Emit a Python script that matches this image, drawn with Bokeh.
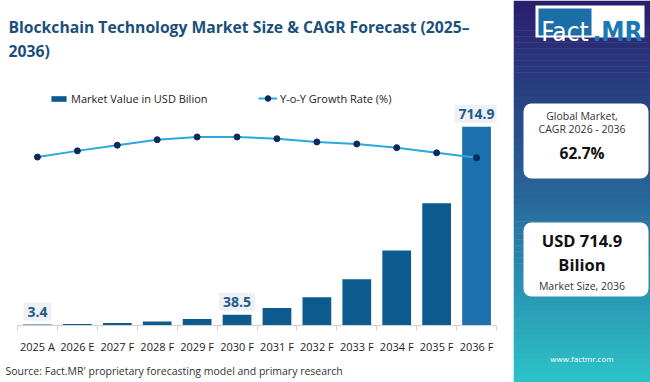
import numpy as np
from bokeh.plotting import figure
from bokeh.models import (Range1d, LinearAxis, FixedTicker, Label, Legend, LegendItem,
                          BoxAnnotation, ColumnDataSource, Title)
from bokeh.layouts import row
from bokeh.embed import file_html
from bokeh.resources import INLINE

# ---------------- data ----------------
categories = ["2025 A", "2026 E", "2027 F", "2028 F", "2029 F", "2030 F",
              "2031 F", "2032 F", "2033 F", "2034 F", "2035 F", "2036 F"]
market_value = [3.4, 5.5, 9.0, 14.6, 23.8, 38.5, 62.7, 102.0, 166.0, 270.0, 440.0, 714.9]
growth_rate = [58.0, 60.5, 62.8, 65.0, 66.1, 66.1, 65.4, 64.1, 63.3, 61.8, 59.7, 57.7]
labelled = ["2025 A", "2030 F", "2036 F"]
title_lines = ["Blockchain Technology Market Size & CAGR Forecast (2025\u2013", "2036)"]
source_text = "Source: Fact.MR' proprietary forecasting model and primary research"
cagr_text = "62.7%"
size_lines = ["USD 714.9", "Bilion"]

FONT = "Open Sans"
W, H = 650, 382
MAIN_W = 513
PANEL_W = W - MAIN_W

idx = list(range(len(categories)))
bar_colors = ["#0c5a8e"] * (len(categories) - 1) + ["#1b70ad"]
src = ColumnDataSource(dict(x=idx, top=market_value, color=bar_colors, g=growth_rate))

# ---------------- main chart ----------------
p = figure(width=MAIN_W, height=H, x_range=Range1d(-0.5, len(categories) - 0.5),
           y_range=Range1d(0, 950), output_backend="svg", toolbar_location=None,
           x_axis_location=None, y_axis_location=None,
           min_border_left=17, min_border_right=17, min_border_top=61, min_border_bottom=55)
p.frame_align = False
p.outline_line_color = None
p.grid.visible = False
p.background_fill_color = "white"
p.border_fill_color = "white"
p.extra_y_ranges = {"g": Range1d(-9.88, 96.52)}

xaxis = LinearAxis(ticker=FixedTicker(ticks=idx, minor_ticks=[i - 0.5 for i in range(len(categories) + 1)]),
                   major_label_overrides={i: c for i, c in enumerate(categories)})
xaxis.axis_line_color = "#d2d2d2"
xaxis.major_tick_line_color = None
xaxis.major_tick_out = 0
xaxis.major_tick_in = 0
xaxis.minor_tick_out = 5
xaxis.minor_tick_in = 0
xaxis.minor_tick_line_color = "#d2d2d2"
xaxis.major_label_standoff = 8
xaxis.major_label_text_font = FONT
xaxis.major_label_text_font_size = "11px"
xaxis.major_label_text_color = "#222222"
p.add_layout(xaxis, "below")

p.add_layout(Title(text=source_text, align="left", offset=-12, standoff=10, text_font=FONT,
                   text_font_size="10.5px", text_font_style="normal", text_color="#333333"), "below")

p.add_layout(Title(text=title_lines[1], align="left", offset=-9, standoff=0, text_font=FONT,
                   text_font_size="15.7px", text_font_style="bold", text_color="#1b4f7c"), "above")
p.add_layout(Title(text=title_lines[0], align="left", offset=-9, standoff=0, text_font=FONT,
                   text_font_size="15.7px", text_font_style="bold", text_color="#1b4f7c"), "above")

bars = p.vbar(x="x", top="top", bottom=0, width=0.72, fill_color="color", line_color=None, source=src)
gline = p.line(x="x", y="g", y_range_name="g", line_color="#2aa8df", line_width=2, source=src)
gdots = p.scatter(x="x", y="g", y_range_name="g", size=6, fill_color="#0b2a5c",
                  line_color="#0b2a5c", source=src)

leg1 = Legend(items=[LegendItem(label="Market Value in USD Bilion", renderers=[bars])],
              location=(32, 219.5), orientation="horizontal", glyph_width=19, glyph_height=7,
              label_standoff=3, padding=0, margin=0, border_line_color=None,
              background_fill_alpha=0, label_text_font=FONT, label_text_font_size="11px",
              label_text_color="#222222", label_height=14)
leg2 = Legend(items=[LegendItem(label="Y-o-Y Growth Rate (%)", renderers=[gline, gdots])],
              location=(241, 219.5), orientation="horizontal", glyph_width=19, glyph_height=14,
              label_standoff=3, padding=0, margin=0, border_line_color=None,
              background_fill_alpha=0, label_text_font=FONT, label_text_font_size="11px",
              label_text_color="#222222", label_height=14)
p.add_layout(leg1)
p.add_layout(leg2)

for cat in labelled:
    i = categories.index(cat)
    p.add_layout(Label(x=i, y=market_value[i], text=f"{market_value[i]:g}", text_align="center",
                       text_baseline="middle", y_offset=13, text_font=FONT, text_font_size="14px",
                       text_font_style="bold", text_color="#1d5c8c",
                       background_fill_color="#eef0f3", padding=4))

# ---------------- side panel ----------------
p2 = figure(width=PANEL_W, height=H, x_range=Range1d(0, PANEL_W), y_range=Range1d(H, 0),
            output_backend="svg", toolbar_location=None, x_axis_location=None,
            y_axis_location=None, min_border=0)
p2.frame_align = False
p2.outline_line_color = None
p2.grid.visible = False
p2.border_fill_color = "white"

stops_t = [0.0, 0.5, 1.0]
stops_c = np.array([[42, 30, 108], [40, 100, 152], [44, 195, 201]], dtype=float)
n = 64
edges = np.linspace(0, H, n + 1)
mids = (edges[:-1] + edges[1:]) / 2 / H
cols = []
for m in mids:
    rgb = [np.interp(m, stops_t, stops_c[:, c]) for c in range(3)]
    cols.append("#%02x%02x%02x" % tuple(int(round(v)) for v in rgb))
p2.quad(left=0, right=PANEL_W, top=edges[:-1], bottom=edges[1:] + 0.5, fill_color=cols, line_color=None)

# logo
p2.add_layout(BoxAnnotation(left=22, right=131, top=5, bottom=37, fill_color="white", fill_alpha=1,
                            line_color=None))
p2.add_layout(BoxAnnotation(left=25, right=78, top=8, bottom=35, fill_color="#1c6ea6", fill_alpha=1,
                            line_color=None))
LOGO_FONT = "DejaVu Sans Condensed, Roboto"
p2.add_layout(Label(x=51.5, y=31.5, text="Fact", text_align="center", text_baseline="alphabetic",
                    text_font=LOGO_FONT, text_font_size="26px", text_color="white"))
p2.add_layout(Label(x=104, y=31.5, text=".MR", text_align="center", text_baseline="alphabetic",
                    text_font=LOGO_FONT, text_font_size="26px", text_font_style="bold",
                    text_color="#1b78b8"))

# cards
p2.add_layout(BoxAnnotation(left=10, right=135, top=103, bottom=178, fill_color="white", fill_alpha=1,
                            line_color=None, border_radius=8))
p2.add_layout(BoxAnnotation(left=10, right=135, top=222, bottom=296, fill_color="white", fill_alpha=1,
                            line_color=None, border_radius=8))
cx = 68.5
for t, yy, sz, st, c in [("Global Market,", 115, "10.5px", "normal", "#333333"),
                         ("CAGR 2026 - 2036", 128.3, "10.5px", "normal", "#333333"),
                         (cagr_text, 152.3, "15.5px", "bold", "#111111"),
                         (size_lines[0], 240, "16.5px", "bold", "#111111"),
                         (size_lines[1], 264.3, "16.5px", "bold", "#111111"),
                         ("Market Size, 2036", 285, "10.5px", "normal", "#333333"),
                         ("www.factmr.com", 358.3, "8px", "normal", "#ffffff")]:
    p2.add_layout(Label(x=cx, y=yy, text=t, text_align="center", text_baseline="middle",
                        text_font=FONT, text_font_size=sz, text_font_style=st, text_color=c))

layout = row(p, p2, spacing=0)
open("out.html", "w").write(file_html(layout, INLINE))
